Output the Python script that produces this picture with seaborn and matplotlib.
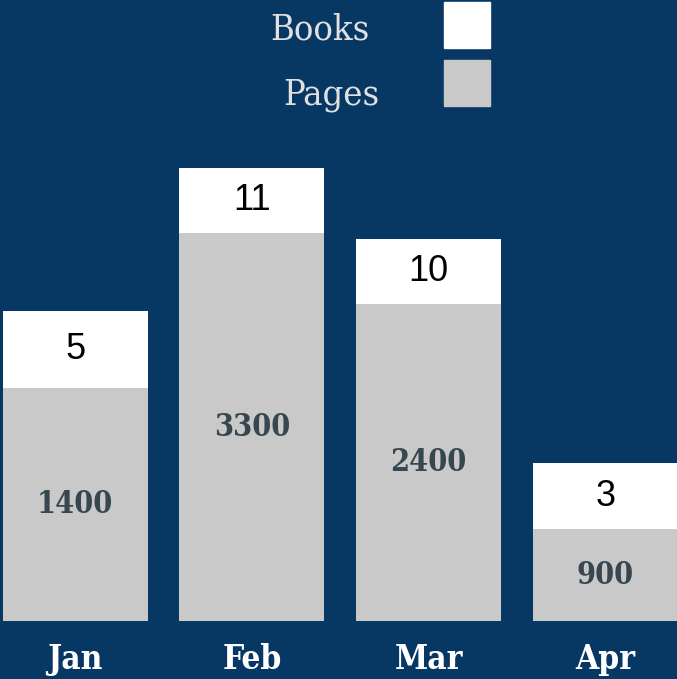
import matplotlib
matplotlib.use("Agg")
import matplotlib.pyplot as plt
import seaborn as sns
import pandas as pd
from matplotlib.patches import Rectangle

# Reading log: books read and pages read per month.
months = ["Jan", "Feb", "Mar", "Apr"]
books = [5, 11, 10, 3]
pages = [1400, 3300, 2400, 900]

# The bars in the original are not drawn to a common scale, so their
# heights are kept apart from the labels.
pages_height = [233, 388, 317, 92]
books_height = [77, 65, 65, 66]

bg = "#073763"
grey = "#c9c9c9"

df = pd.DataFrame({
    "month": months,
    "pages": pages_height,
    "total": [p + b for p, b in zip(pages_height, books_height)],
})

sns.set_theme(style="white")
W, H = 677, 679
fig = plt.figure(figsize=(W / 100, H / 100), dpi=100, facecolor=bg)
ax = fig.add_axes([0, 58 / H, 1, 621 / H])
ax.set_facecolor(bg)

# white (books) first, grey (pages) drawn on top of its lower part
sns.barplot(data=df, x="month", y="total", color="white", width=0.82,
            saturation=1, linewidth=0, ax=ax)
sns.barplot(data=df, x="month", y="pages", color=grey, width=0.82,
            saturation=1, linewidth=0, ax=ax)

ax.set_xlim(-0.425, 3.405)
ax.set_ylim(0, 621)
ax.set_xlabel("")
ax.set_ylabel("")
ax.set_yticks([])
sns.despine(ax=ax, left=True, bottom=True)
ax.tick_params(axis="x", length=0, pad=16)
for lab in ax.get_xticklabels():
    lab.set_fontfamily("DejaVu Serif")
    lab.set_fontweight("bold")
    lab.set_fontstretch("condensed")
    lab.set_fontsize(24)
    lab.set_color("white")

# labels inside the bars
for i in range(len(months)):
    ph, bh = pages_height[i], books_height[i]
    ax.text(i, ph + bh / 2, str(books[i]), ha="center", va="center",
            fontsize=26, color="black", family="Liberation Sans")
    ax.text(i, ph / 2, str(pages[i]),
            ha="center", va="center", fontsize=22, color="#37474f",
            family="DejaVu Serif", fontweight="bold", fontstretch="condensed")

# legend: label text on the left, square swatch on the right
for name, col, top, right, base in [("Books", "white", 2, 369, 39),
                                     ("Pages", grey, 60, 379, 105)]:
    fig.add_artist(Rectangle((444 / W, (H - top - 46) / H), 46 / W, 46 / H,
                             transform=fig.transFigure, color=col))
    fig.text(right / W, (H - base) / H, name, ha="right", va="baseline",
             fontsize=26, color="#e0e0e0",
             family="DejaVu Serif", fontstretch="condensed")

fig.savefig("out.png", dpi=100, facecolor=bg)
